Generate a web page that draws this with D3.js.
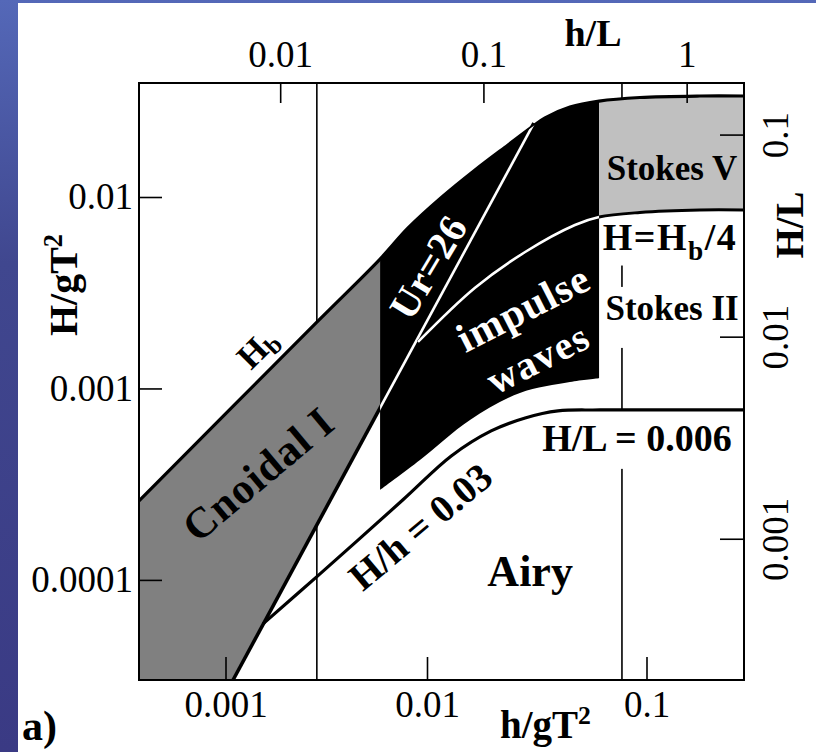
<!DOCTYPE html>
<html>
<head>
<meta charset="utf-8">
<script src="https://cdn.jsdelivr.net/npm/d3@7"></script>
<style>
  html, body { margin: 0; padding: 0; background: #fff; }
  svg { display: block; }
  text { font-family: "Liberation Serif", "Times New Roman", serif; }
</style>
</head>
<body>
<svg id="chart" width="816" height="752"></svg>
<script>
// axis ticks
const hgtTicks = [0.001, 0.01, 0.1];      // h/gT^2, bottom
const HgtTicks = [0.0001, 0.001, 0.01];   // H/gT^2, left
const hLTicks = [0.01, 0.1, 1];           // h/L, top
const HLTicks = [0.001, 0.01, 0.1];       // H/L, right

// boundaries as [h/gT^2, H/gT^2]
const breakingLimit = [ // H_b
  [3.74e-4, 2.59e-4], [2.84e-3, 2.22e-3], [5.85e-3, 4.74e-3], [8.06e-3, 6.89e-3],
  [0.0117, 0.0100], [0.0165, 0.0138], [0.0234, 0.0187], [0.0310, 0.0238],
  [0.0345, 0.0259], [0.0448, 0.0295], [0.0608, 0.0317], [0.0933, 0.0331],
  [0.175, 0.0337], [0.278, 0.0337]
];
const ursellLine = [[1.09e-3, 3.0e-5], [5.85e-3, 8.0e-4], [0.0307, 0.0243]]; // Ur = 26
const stokesLimit = [ // H = H_b/4
  [9.02e-3, 1.75e-3], [0.0165, 3.35e-3], [0.0280, 5.16e-3], [0.0472, 7.14e-3],
  [0.0608, 7.86e-3], [0.0933, 8.30e-3], [0.175, 8.55e-3], [0.278, 8.55e-3]
];
const impulseLower = [
  [5.85e-3, 2.95e-4], [9.23e-3, 4.23e-4], [0.0157, 6.85e-4], [0.0265, 9.47e-4],
  [0.0448, 1.08e-3], [0.0608, 1.13e-3]
];
const airyLimit = [ // H/h = 0.03, then H/L = 0.006
  [1.535e-3, 5.89e-5], [2.87e-3, 1.05e-4], [7.60e-3, 2.62e-4], [0.0129, 4.44e-4],
  [0.0196, 6.0e-4], [0.0280, 7.01e-4], [0.0395, 7.63e-4], [0.0614, 7.72e-4], [0.278, 7.72e-4]
];
const impulseRange = [5.85e-3, 0.0608];
const depthLines = [2.84e-3, 0.0773];

const svg = d3.select('#chart');
const margin = {left: 139, top: 83};
const width = 605, height = 597;

// page background
const grad = svg.append('defs').append('linearGradient')
  .attr('id', 'bg').attr('x1', 0).attr('y1', 0).attr('x2', 0).attr('y2', 1);
grad.append('stop').attr('offset', 0).attr('stop-color', '#5468b8');
grad.append('stop').attr('offset', 0.35).attr('stop-color', '#40478f');
grad.append('stop').attr('offset', 1).attr('stop-color', '#3a3a84');
svg.append('rect').attr('width', 816).attr('height', 752).attr('fill', 'url(#bg)');
svg.append('rect').attr('x', 18).attr('y', 3).attr('width', 798).attr('height', 749).attr('fill', '#fff');

const g = svg.append('g').attr('transform', `translate(${margin.left},${margin.top})`);

// the printed bottom axis has uneven decades, hence the piecewise log scale
const x = d3.scaleLog()
  .domain([3.74e-4, 0.001, 0.01, 0.1, 0.278])
  .range([0, 86.5, 288, 507.5, width]);
const y = d3.scaleLog().domain([3.0e-5, 0.0394]).range([height, 0]);
const xTop = d3.scaleLog().domain([2.02e-3, 1.915]).range([0, width]);
const yRight = d3.scaleLog().domain([2.0e-4, 0.18]).range([height, 0]);

const xMin = x.domain()[0], yMin = y.domain()[0];

const seg = (pts, curve) => d3.line()
  .x(d => x(d[0])).y(d => y(d[1]))
  .curve(curve || d3.curveLinear)(pts);
const closed = parts => parts.map((p, i) => i ? p.replace(/^M/, 'L') : p).join('') + 'Z';
const cr = d3.curveCatmullRom.alpha(0.5);

// vertical depth lines, with a layer for label knock-outs above them
g.selectAll('.depth')
  .data(depthLines)
  .enter().append('line')
  .attr('x1', d => x(d)).attr('x2', d => x(d))
  .attr('y1', 0).attr('y2', height)
  .attr('stroke', '#000').attr('stroke-width', 1.6);
const boxLayer = g.append('g');

// regions
const [xl, xr] = impulseRange;
const hbLeft = breakingLimit.filter(d => d[0] <= xl);
const hbMid = breakingLimit.filter(d => d[0] >= xl && d[0] <= xr);
const hbRight = breakingLimit.filter(d => d[0] >= xr);
const stRight = stokesLimit.filter(d => d[0] >= xr);

const cnoidalPath = closed([
  seg(hbLeft),
  seg([hbLeft[hbLeft.length - 1], ursellLine[1], ursellLine[0], [ursellLine[0][0], yMin], [xMin, yMin]])
]);
const impulsePath = closed([
  seg(hbMid, cr),
  seg([hbMid[hbMid.length - 1], impulseLower[impulseLower.length - 1]]),
  seg(impulseLower.slice().reverse(), cr)
]);
const stokesPath = closed([
  seg(hbRight, cr),
  seg([hbRight[hbRight.length - 1], stRight[stRight.length - 1]]),
  seg(stRight.slice().reverse(), cr)
]);

g.append('clipPath').attr('id', 'impulseClip').append('path').attr('d', impulsePath);

g.append('path').attr('d', cnoidalPath).attr('fill', '#808080');
g.append('path').attr('d', impulsePath).attr('fill', '#000');
g.append('path').attr('d', stokesPath).attr('fill', '#c0c0c0');

// boundary lines
g.append('path').attr('d', seg(breakingLimit, cr))
  .attr('fill', 'none').attr('stroke', '#000').attr('stroke-width', 3.2);
g.append('path').attr('d', seg([ursellLine[0], ursellLine[2]]))
  .attr('fill', 'none').attr('stroke', '#000').attr('stroke-width', 3.6);
g.append('path').attr('d', seg([ursellLine[0], ursellLine[2]]))
  .attr('clip-path', 'url(#impulseClip)')
  .attr('fill', 'none').attr('stroke', '#fff').attr('stroke-width', 2.6);
g.append('path').attr('d', seg(stokesLimit, cr))
  .attr('fill', 'none').attr('stroke', '#000').attr('stroke-width', 3);
g.append('path').attr('d', seg(stokesLimit, cr))
  .attr('clip-path', 'url(#impulseClip)')
  .attr('fill', 'none').attr('stroke', '#fff').attr('stroke-width', 2.6);
g.append('path').attr('d', seg(airyLimit, cr))
  .attr('fill', 'none').attr('stroke', '#000').attr('stroke-width', 3.2);

// region labels
function label(parts, hx, Hy, opts) {
  const o = Object.assign({angle: 0, size: 36, color: '#000', spacing: 0, box: null}, opts);
  const t = g.append('text')
    .attr('transform', `translate(${x(hx)},${y(Hy)}) rotate(${o.angle})`)
    .attr('text-anchor', 'middle')
    .attr('dominant-baseline', o.angle ? 'central' : 'auto')
    .attr('font-size', o.size)
    .attr('font-weight', 'bold')
    .attr('letter-spacing', o.spacing)
    .attr('fill', o.color);
  parts.forEach(p => {
    const s = t.append('tspan').text(p.t);
    if (p.sub) s.attr('font-size', o.size * 0.72).attr('dy', '0.35em');
    if (p.back) s.attr('dy', '-0.25em');
  });
  if (o.box) {
    const b = t.node().getBBox();
    boxLayer.append('rect')
      .attr('x', x(hx) + b.x - o.box[0]).attr('y', y(Hy) + b.y - o.box[1])
      .attr('width', b.width + 2 * o.box[0]).attr('height', b.height + o.box[1] + o.box[2])
      .attr('fill', '#fff');
  }
  return t;
}

label([{t: 'H'}, {t: 'b', sub: true}], 1.433e-3, 1.627e-3, {angle: -45, size: 35});
label([{t: 'Cnoidal I'}], 1.449e-3, 3.58e-4, {angle: -40, size: 43, spacing: 1});
label([{t: 'Ur=26'}], 0.0101, 4.31e-3, {angle: -59, size: 40, color: '#fff', spacing: 0.5});
label([{t: 'impulse'}], 0.0274, 2.63e-3, {angle: -27, size: 41, color: '#fff', spacing: 1});
label([{t: 'waves'}], 0.0320, 1.443e-3, {angle: -27, size: 40, color: '#fff', spacing: 1.5});
label([{t: 'Stokes V'}], 0.1307, 0.01227, {size: 35});
label([{t: 'H=H'}, {t: 'b', sub: true}, {t: '/4', back: true}], 0.128, 5.29e-3, {size: 38, spacing: 1.5, box: [4, 2, 0]});
label([{t: 'Stokes II'}], 0.1307, 2.28e-3, {size: 35, box: [4, 2, 20]});
label([{t: 'H/L = 0.006'}], 0.0905, 4.72e-4, {size: 38, box: [4, 6, 10]});
label([{t: 'Airy'}], 0.0295, 9.31e-5, {size: 44});
label([{t: 'H/h = 0.03'}], 9.23e-3, 1.914e-4, {angle: -40, size: 39});

// frame and axes
g.append('rect').attr('width', width).attr('height', height)
  .attr('fill', 'none').attr('stroke', '#000').attr('stroke-width', 2);

const styleAxis = sel => {
  sel.select('.domain').remove();
  sel.selectAll('line').attr('stroke', '#000').attr('stroke-width', 1.6);
  sel.selectAll('text').attr('fill', '#000')
    .style('font-family', '"Liberation Serif", serif').style('font-size', '37px');
};

g.append('g').attr('transform', `translate(0,${height})`)
  .call(d3.axisBottom(x).tickValues(hgtTicks).tickFormat(d3.format('')).tickSize(-23).tickPadding(11))
  .call(styleAxis);
g.append('g')
  .call(d3.axisLeft(y).tickValues(HgtTicks).tickFormat(d3.format('')).tickSize(-23).tickPadding(6))
  .call(styleAxis);
g.append('g')
  .call(d3.axisTop(xTop).tickValues(hLTicks).tickFormat(d3.format('')).tickSize(-20).tickPadding(16))
  .call(styleAxis);
g.append('g').attr('transform', `translate(${width},0)`)
  .call(d3.axisRight(yRight).tickValues(HLTicks).tickFormat(d3.format('')).tickSize(-24).tickPadding(44))
  .call(styleAxis)
  .call(sel => sel.selectAll('text')
    .attr('x', 0).attr('dy', 0).attr('text-anchor', 'middle')
    .attr('transform', 'translate(44,0) rotate(-90)'));

// axis titles
const title = (parts, tx, ty, angle, size, anchor) => {
  const t = svg.append('text')
    .attr('transform', `translate(${tx},${ty}) rotate(${angle || 0})`)
    .attr('text-anchor', anchor || 'middle')
    .attr('font-size', size).attr('font-weight', 'bold').attr('fill', '#000');
  parts.forEach(p => {
    const s = t.append('tspan').text(p.t);
    if (p.sup) s.attr('font-size', size * 0.66).attr('dy', '-0.55em');
  });
};
title([{t: 'H/gT'}, {t: '2', sup: true}], 77, 285, -90, 40);
title([{t: 'h/L'}], 593, 46, 0, 38);
title([{t: 'h/gT'}, {t: '2', sup: true}], 500, 738, 0, 39, 'start');
title([{t: 'H/L'}], 803, 225, -90, 39);
title([{t: 'a)'}], 22, 740, 0, 42, 'start');
</script>
</body>
</html>
